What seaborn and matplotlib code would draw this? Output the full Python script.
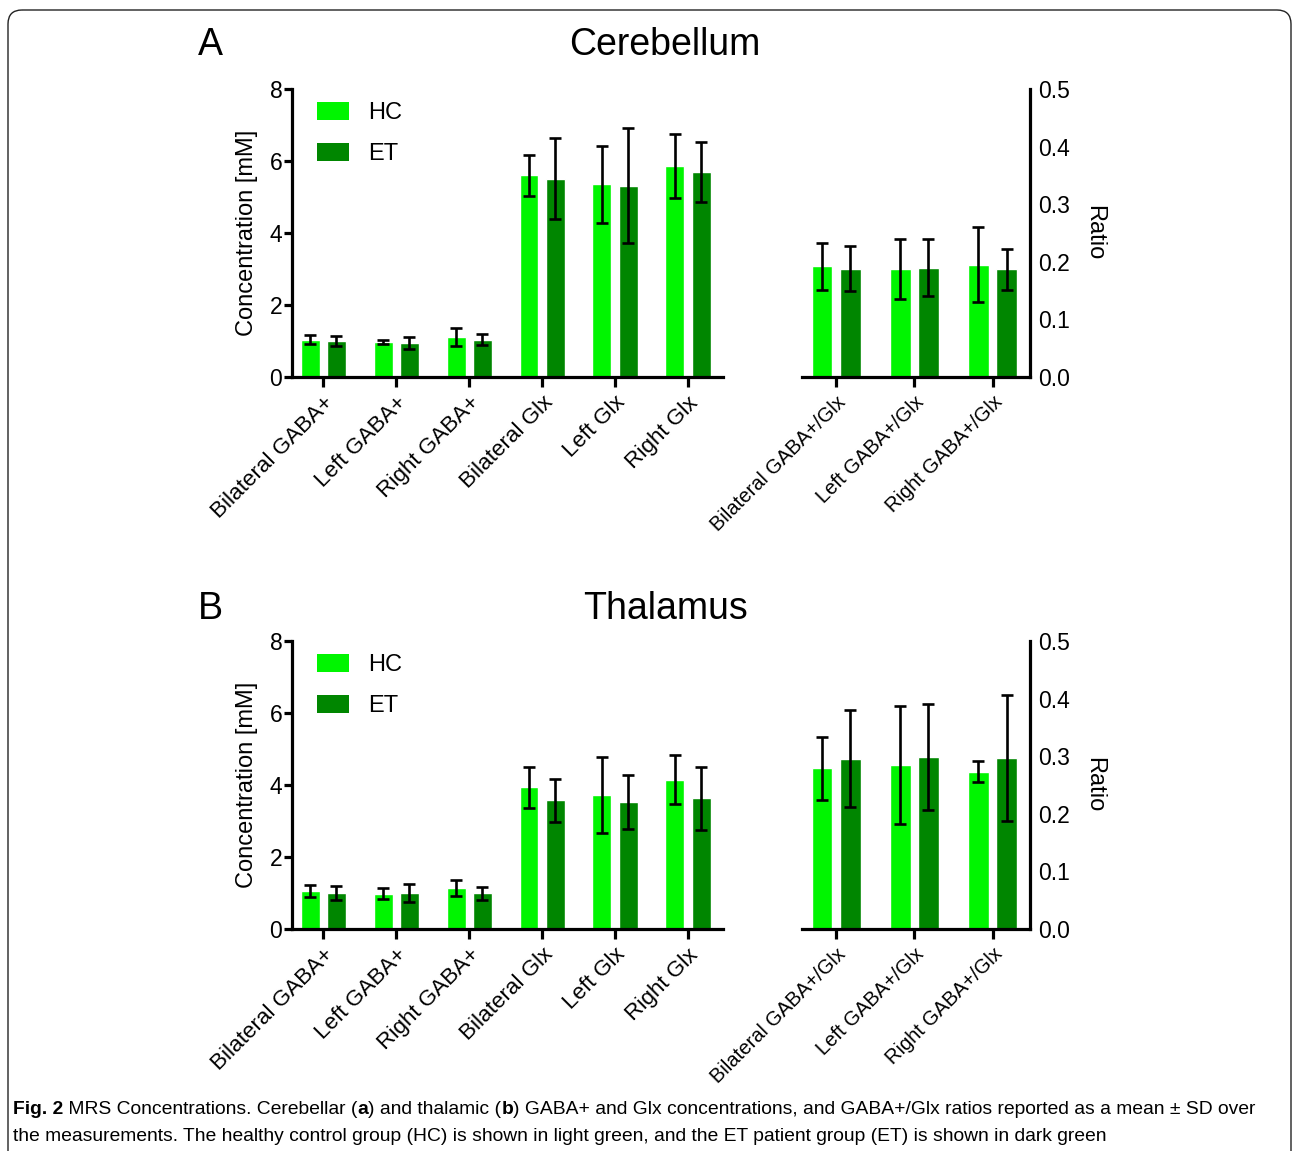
import matplotlib
matplotlib.use("Agg")
import matplotlib.pyplot as plt
from matplotlib.patches import FancyBboxPatch, Patch
import numpy as np
import pandas as pd
import seaborn as sns

groups = ["HC", "ET"]
conc_labels = ["Bilateral GABA+", "Left GABA+", "Right GABA+",
               "Bilateral Glx", "Left Glx", "Right Glx"]
ratio_labels = ["Bilateral GABA+/Glx", "Left GABA+/Glx", "Right GABA+/Glx"]

# cerebellum (mean, SD)
cb_conc_hc = [1.04, 0.97, 1.11, 5.61, 5.35, 5.86]
cb_conc_hc_sd = [0.13, 0.05, 0.25, 0.57, 1.08, 0.90]
cb_conc_et = [1.00, 0.95, 1.04, 5.51, 5.31, 5.69]
cb_conc_et_sd = [0.13, 0.16, 0.15, 1.13, 1.60, 0.84]
cb_ratio_hc = [0.192, 0.188, 0.195]
cb_ratio_hc_sd = [0.041, 0.052, 0.065]
cb_ratio_et = [0.188, 0.190, 0.187]
cb_ratio_et_sd = [0.039, 0.050, 0.036]

# thalamus (mean, SD)
th_conc_hc = [1.05, 0.98, 1.14, 3.94, 3.73, 4.14]
th_conc_hc_sd = [0.16, 0.16, 0.22, 0.57, 1.05, 0.68]
th_conc_et = [1.00, 1.00, 0.99, 3.57, 3.52, 3.63]
th_conc_et_sd = [0.20, 0.25, 0.19, 0.60, 0.75, 0.87]
th_ratio_hc = [0.279, 0.285, 0.273]
th_ratio_hc_sd = [0.055, 0.103, 0.018]
th_ratio_et = [0.296, 0.298, 0.297]
th_ratio_et_sd = [0.085, 0.092, 0.110]

light = "#00f500"
dark = "#008600"

sns.set_style("ticks", {"axes.edgecolor": "black", "xtick.color": "black",
                        "ytick.color": "black", "text.color": "black",
                        "axes.labelcolor": "black"})
plt.rcParams['font.family'] = ['Liberation Sans', 'DejaVu Sans']
plt.rcParams['axes.linewidth'] = 2.3
plt.rcParams['xtick.major.width'] = 2.3
plt.rcParams['ytick.major.width'] = 2.3
plt.rcParams['xtick.major.size'] = 7
plt.rcParams['ytick.major.size'] = 6
plt.rcParams['xtick.labelsize'] = 16
plt.rcParams['ytick.labelsize'] = 16.5
plt.rcParams['axes.labelsize'] = 17

W, H = 1293, 1151
fig = plt.figure(figsize=(W / 100, H / 100), dpi=100)


def bar_panel(ax, labels, hc, hc_sd, et, et_sd, label_size):
    df = pd.DataFrame({"measure": labels * 2,
                       "group": ["HC"] * len(labels) + ["ET"] * len(labels),
                       "value": hc + et, "sd": hc_sd + et_sd})
    sns.barplot(data=df, x="measure", y="value", hue="group", palette=[light, dark],
                width=0.72, gap=0.28, saturation=1, errorbar=None, legend=False, ax=ax)
    for cont, g in zip(ax.containers, groups):
        sub = df[df.group == g]
        xs = [p.get_x() + p.get_width() / 2 for p in cont]
        ax.errorbar(xs, sub.value, yerr=sub.sd, fmt="none", ecolor="black",
                    elinewidth=1.9, capsize=4.5, capthick=1.9, zorder=5)
    ax.set_xlabel("")
    plt.setp(ax.get_xticklabels(), rotation=45, ha="right", rotation_mode="anchor",
             fontsize=label_size)
    ax.tick_params(axis="x", pad=4)
    ax.tick_params(axis="y", pad=1)


def panel(top_px, title_y, letter, title, conc, ratio):
    bottom = 1 - top_px[1] / H
    height = (top_px[1] - top_px[0]) / H
    ax1 = fig.add_axes([292 / W, bottom, (723 - 292) / W, height])
    ax2 = fig.add_axes([802 / W, bottom, (1030 - 802) / W, height])

    bar_panel(ax1, conc_labels, *conc, label_size=16.2)
    ax1.set_ylim(0, 8)
    ax1.set_yticks([0, 2, 4, 6, 8])
    ax1.set_xlim(-0.43, 5.48)
    ax1.set_ylabel("Concentration [mM]", labelpad=8)
    sns.despine(ax=ax1)

    bar_panel(ax2, ratio_labels, *ratio, label_size=14.5)
    ax2.set_ylim(0, 0.5)
    ax2.set_yticks(np.arange(0, 0.51, 0.1))
    ax2.set_yticklabels([f"{v:.1f}" for v in np.arange(0, 0.51, 0.1)])
    ax2.set_xlim(-0.44, 2.48)
    ax2.yaxis.tick_right()
    ax2.yaxis.set_label_position("right")
    ax2.tick_params(axis="y", pad=0)
    ax2.set_ylabel("Ratio", rotation=-90, labelpad=25)
    sns.despine(ax=ax2, left=True, right=False)

    handles = [Patch(facecolor=light, edgecolor="none", label="HC"),
               Patch(facecolor=dark, edgecolor="none", label="ET")]
    ax1.legend(handles=handles, loc="upper left", bbox_to_anchor=(0.058, 0.955),
               frameon=False, fontsize=17, handlelength=1.35, handleheight=0.78,
               handletextpad=0.8, labelspacing=0.8, borderpad=0, borderaxespad=0)

    ty = 1 - title_y / H
    fig.text(210 / W, ty, letter, fontsize=27, ha="center", va="center")
    fig.text(665 / W, ty, title, fontsize=27, ha="center", va="center")


panel((89, 377), 45, "A", "Cerebellum",
      (cb_conc_hc, cb_conc_hc_sd, cb_conc_et, cb_conc_et_sd),
      (cb_ratio_hc, cb_ratio_hc_sd, cb_ratio_et, cb_ratio_et_sd))
panel((641, 929), 609, "B", "Thalamus",
      (th_conc_hc, th_conc_hc_sd, th_conc_et, th_conc_et_sd),
      (th_ratio_hc, th_ratio_hc_sd, th_ratio_et, th_ratio_et_sd))

# caption
cap_font = ["Liberation Sans", "DejaVu Sans"]
cap_size = 13.85
over = fig.add_axes([0, 0, 1, 1], facecolor="none")
over.axis("off")
over.set_xlim(0, W)
over.set_ylim(H, 0)
line1 = [("Fig. 2", "bold"), (" MRS Concentrations. Cerebellar (", "normal"), ("a", "bold"),
         (") and thalamic (", "normal"), ("b", "bold"),
         (") GABA+ and Glx concentrations, and GABA+/Glx ratios reported as a mean ± SD over", "normal")]
prev = over.text(13, 1114, line1[0][0], fontsize=cap_size, fontweight="bold", family=cap_font,
                 va="baseline", ha="left")
for txt, wt in line1[1:]:
    prev = over.annotate(txt, xy=(1, 0), xycoords=prev, fontsize=cap_size, fontweight=wt,
                         family=cap_font, va="bottom", ha="left")
over.text(13, 1141, "the measurements. The healthy control group (HC) is shown in light green, "
          "and the ET patient group (ET) is shown in dark green", fontsize=cap_size,
          family=cap_font, va="baseline", ha="left")

border = FancyBboxPatch((8, 10), W - 10, H + 30, boxstyle="round,pad=0,rounding_size=14",
                        transform=over.transData, facecolor="none", edgecolor="#222222",
                        linewidth=1.0, clip_on=False)
over.add_patch(border)

fig.savefig("out.png", dpi=100)
